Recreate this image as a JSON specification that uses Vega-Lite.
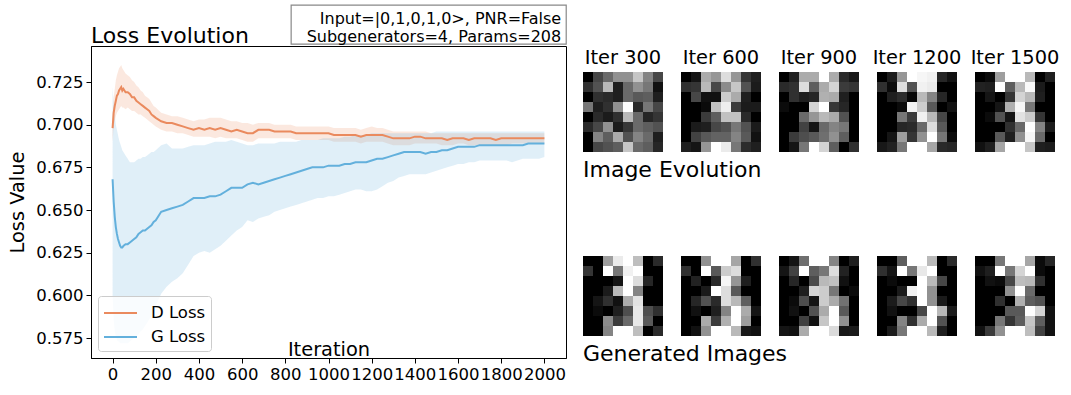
{
"$schema":"https://vega.github.io/schema/vega-lite/v6.json",
"background":"white",
"padding":{"left":7,"right":5,"top":3,"bottom":5},
"config":{
 "font":"DejaVu Sans",
 "view":{"stroke":null},
 "axis":{"grid":false,"domainColor":"black","tickColor":"black","labelColor":"black","titleColor":"black","labelFont":"DejaVu Sans","titleFont":"DejaVu Sans","labelFontSize":16.5,"titleFontSize":19.4,"titleFontWeight":"normal","tickSize":5,"labelPadding":3,"domainWidth":1,"tickWidth":1},
 "title":{"font":"DejaVu Sans","fontWeight":"normal","color":"black"},
 "header":{"labelFont":"DejaVu Sans","labelColor":"black"},
 "legend":{"labelFont":"DejaVu Sans"},
 "scale":{"bandPaddingInner":0,"bandPaddingOuter":0}
},
"datasets":{
 "loss":[
{"it":0,"s":"D Loss","m":0.698,"lo":0.690,"hi":0.705},
{"it":5,"s":"D Loss","m":0.707,"lo":0.699,"hi":0.716},
{"it":10,"s":"D Loss","m":0.711,"lo":0.702,"hi":0.721},
{"it":15,"s":"D Loss","m":0.714,"lo":0.705,"hi":0.726},
{"it":20,"s":"D Loss","m":0.717,"lo":0.707,"hi":0.729},
{"it":25,"s":"D Loss","m":0.718,"lo":0.708,"hi":0.731},
{"it":30,"s":"D Loss","m":0.720,"lo":0.709,"hi":0.733},
{"it":35,"s":"D Loss","m":0.721,"lo":0.710,"hi":0.734},
{"it":40,"s":"D Loss","m":0.722,"lo":0.711,"hi":0.735},
{"it":45,"s":"D Loss","m":0.720,"lo":0.710,"hi":0.733},
{"it":50,"s":"D Loss","m":0.721,"lo":0.710,"hi":0.732},
{"it":60,"s":"D Loss","m":0.719,"lo":0.709,"hi":0.730},
{"it":70,"s":"D Loss","m":0.719,"lo":0.710,"hi":0.729},
{"it":80,"s":"D Loss","m":0.718,"lo":0.709,"hi":0.728},
{"it":90,"s":"D Loss","m":0.716,"lo":0.708,"hi":0.726},
{"it":100,"s":"D Loss","m":0.716,"lo":0.708,"hi":0.725},
{"it":110,"s":"D Loss","m":0.714,"lo":0.707,"hi":0.723},
{"it":120,"s":"D Loss","m":0.713,"lo":0.706,"hi":0.722},
{"it":130,"s":"D Loss","m":0.712,"lo":0.706,"hi":0.720},
{"it":140,"s":"D Loss","m":0.711,"lo":0.705,"hi":0.719},
{"it":150,"s":"D Loss","m":0.710,"lo":0.704,"hi":0.717},
{"it":160,"s":"D Loss","m":0.709,"lo":0.703,"hi":0.716},
{"it":170,"s":"D Loss","m":0.708,"lo":0.702,"hi":0.715},
{"it":180,"s":"D Loss","m":0.706,"lo":0.701,"hi":0.713},
{"it":190,"s":"D Loss","m":0.705,"lo":0.700,"hi":0.711},
{"it":200,"s":"D Loss","m":0.704,"lo":0.699,"hi":0.710},
{"it":225,"s":"D Loss","m":0.702,"lo":0.697,"hi":0.707},
{"it":250,"s":"D Loss","m":0.701,"lo":0.696,"hi":0.706},
{"it":275,"s":"D Loss","m":0.701,"lo":0.696,"hi":0.705},
{"it":300,"s":"D Loss","m":0.700,"lo":0.695,"hi":0.705},
{"it":325,"s":"D Loss","m":0.699,"lo":0.695,"hi":0.704},
{"it":350,"s":"D Loss","m":0.698,"lo":0.694,"hi":0.703},
{"it":375,"s":"D Loss","m":0.697,"lo":0.693,"hi":0.702},
{"it":400,"s":"D Loss","m":0.698,"lo":0.693,"hi":0.703},
{"it":425,"s":"D Loss","m":0.697,"lo":0.693,"hi":0.703},
{"it":450,"s":"D Loss","m":0.698,"lo":0.693,"hi":0.704},
{"it":475,"s":"D Loss","m":0.697,"lo":0.692,"hi":0.704},
{"it":500,"s":"D Loss","m":0.698,"lo":0.693,"hi":0.704},
{"it":525,"s":"D Loss","m":0.697,"lo":0.692,"hi":0.703},
{"it":550,"s":"D Loss","m":0.696,"lo":0.692,"hi":0.702},
{"it":575,"s":"D Loss","m":0.697,"lo":0.692,"hi":0.702},
{"it":600,"s":"D Loss","m":0.696,"lo":0.691,"hi":0.701},
{"it":625,"s":"D Loss","m":0.695,"lo":0.690,"hi":0.701},
{"it":650,"s":"D Loss","m":0.695,"lo":0.690,"hi":0.700},
{"it":675,"s":"D Loss","m":0.697,"lo":0.692,"hi":0.701},
{"it":700,"s":"D Loss","m":0.697,"lo":0.692,"hi":0.701},
{"it":725,"s":"D Loss","m":0.697,"lo":0.692,"hi":0.701},
{"it":750,"s":"D Loss","m":0.696,"lo":0.692,"hi":0.700},
{"it":775,"s":"D Loss","m":0.696,"lo":0.692,"hi":0.700},
{"it":800,"s":"D Loss","m":0.696,"lo":0.692,"hi":0.700},
{"it":825,"s":"D Loss","m":0.696,"lo":0.692,"hi":0.700},
{"it":850,"s":"D Loss","m":0.695,"lo":0.691,"hi":0.699},
{"it":875,"s":"D Loss","m":0.695,"lo":0.691,"hi":0.699},
{"it":900,"s":"D Loss","m":0.695,"lo":0.691,"hi":0.699},
{"it":925,"s":"D Loss","m":0.695,"lo":0.691,"hi":0.699},
{"it":950,"s":"D Loss","m":0.695,"lo":0.691,"hi":0.699},
{"it":975,"s":"D Loss","m":0.695,"lo":0.691,"hi":0.699},
{"it":1000,"s":"D Loss","m":0.695,"lo":0.691,"hi":0.699},
{"it":1025,"s":"D Loss","m":0.694,"lo":0.690,"hi":0.698},
{"it":1050,"s":"D Loss","m":0.694,"lo":0.690,"hi":0.698},
{"it":1075,"s":"D Loss","m":0.694,"lo":0.690,"hi":0.698},
{"it":1100,"s":"D Loss","m":0.694,"lo":0.690,"hi":0.698},
{"it":1125,"s":"D Loss","m":0.694,"lo":0.690,"hi":0.698},
{"it":1150,"s":"D Loss","m":0.693,"lo":0.689,"hi":0.697},
{"it":1175,"s":"D Loss","m":0.694,"lo":0.690,"hi":0.698},
{"it":1200,"s":"D Loss","m":0.694,"lo":0.690,"hi":0.699},
{"it":1225,"s":"D Loss","m":0.694,"lo":0.690,"hi":0.698},
{"it":1250,"s":"D Loss","m":0.694,"lo":0.690,"hi":0.698},
{"it":1275,"s":"D Loss","m":0.693,"lo":0.689,"hi":0.697},
{"it":1300,"s":"D Loss","m":0.692,"lo":0.688,"hi":0.696},
{"it":1325,"s":"D Loss","m":0.692,"lo":0.688,"hi":0.696},
{"it":1350,"s":"D Loss","m":0.692,"lo":0.688,"hi":0.696},
{"it":1375,"s":"D Loss","m":0.692,"lo":0.688,"hi":0.696},
{"it":1400,"s":"D Loss","m":0.693,"lo":0.689,"hi":0.696},
{"it":1425,"s":"D Loss","m":0.693,"lo":0.689,"hi":0.696},
{"it":1450,"s":"D Loss","m":0.692,"lo":0.689,"hi":0.696},
{"it":1475,"s":"D Loss","m":0.692,"lo":0.689,"hi":0.695},
{"it":1500,"s":"D Loss","m":0.692,"lo":0.689,"hi":0.695},
{"it":1525,"s":"D Loss","m":0.692,"lo":0.688,"hi":0.695},
{"it":1550,"s":"D Loss","m":0.691,"lo":0.688,"hi":0.695},
{"it":1575,"s":"D Loss","m":0.692,"lo":0.688,"hi":0.695},
{"it":1600,"s":"D Loss","m":0.692,"lo":0.689,"hi":0.695},
{"it":1625,"s":"D Loss","m":0.692,"lo":0.689,"hi":0.695},
{"it":1650,"s":"D Loss","m":0.691,"lo":0.688,"hi":0.695},
{"it":1675,"s":"D Loss","m":0.692,"lo":0.688,"hi":0.695},
{"it":1700,"s":"D Loss","m":0.692,"lo":0.688,"hi":0.695},
{"it":1725,"s":"D Loss","m":0.692,"lo":0.688,"hi":0.695},
{"it":1750,"s":"D Loss","m":0.692,"lo":0.688,"hi":0.695},
{"it":1775,"s":"D Loss","m":0.691,"lo":0.688,"hi":0.695},
{"it":1800,"s":"D Loss","m":0.692,"lo":0.688,"hi":0.695},
{"it":1825,"s":"D Loss","m":0.692,"lo":0.688,"hi":0.695},
{"it":1850,"s":"D Loss","m":0.692,"lo":0.689,"hi":0.695},
{"it":1875,"s":"D Loss","m":0.692,"lo":0.689,"hi":0.695},
{"it":1900,"s":"D Loss","m":0.692,"lo":0.689,"hi":0.695},
{"it":1925,"s":"D Loss","m":0.692,"lo":0.689,"hi":0.695},
{"it":1950,"s":"D Loss","m":0.692,"lo":0.689,"hi":0.695},
{"it":1975,"s":"D Loss","m":0.692,"lo":0.689,"hi":0.695},
{"it":2000,"s":"D Loss","m":0.692,"lo":0.689,"hi":0.695},
{"it":0,"s":"G Loss","m":0.668,"lo":0.600,"hi":0.722},
{"it":5,"s":"G Loss","m":0.655,"lo":0.586,"hi":0.712},
{"it":10,"s":"G Loss","m":0.646,"lo":0.579,"hi":0.705},
{"it":15,"s":"G Loss","m":0.640,"lo":0.576,"hi":0.700},
{"it":20,"s":"G Loss","m":0.636,"lo":0.574,"hi":0.697},
{"it":25,"s":"G Loss","m":0.633,"lo":0.573,"hi":0.694},
{"it":30,"s":"G Loss","m":0.631,"lo":0.573,"hi":0.691},
{"it":35,"s":"G Loss","m":0.629,"lo":0.572,"hi":0.689},
{"it":40,"s":"G Loss","m":0.628,"lo":0.572,"hi":0.687},
{"it":45,"s":"G Loss","m":0.628,"lo":0.572,"hi":0.685},
{"it":50,"s":"G Loss","m":0.629,"lo":0.572,"hi":0.684},
{"it":60,"s":"G Loss","m":0.630,"lo":0.572,"hi":0.682},
{"it":70,"s":"G Loss","m":0.630,"lo":0.572,"hi":0.680},
{"it":80,"s":"G Loss","m":0.631,"lo":0.573,"hi":0.678},
{"it":90,"s":"G Loss","m":0.632,"lo":0.574,"hi":0.678},
{"it":100,"s":"G Loss","m":0.633,"lo":0.575,"hi":0.678},
{"it":110,"s":"G Loss","m":0.634,"lo":0.576,"hi":0.679},
{"it":120,"s":"G Loss","m":0.636,"lo":0.577,"hi":0.680},
{"it":130,"s":"G Loss","m":0.637,"lo":0.579,"hi":0.680},
{"it":140,"s":"G Loss","m":0.638,"lo":0.580,"hi":0.681},
{"it":150,"s":"G Loss","m":0.638,"lo":0.582,"hi":0.681},
{"it":160,"s":"G Loss","m":0.639,"lo":0.584,"hi":0.682},
{"it":170,"s":"G Loss","m":0.640,"lo":0.586,"hi":0.683},
{"it":180,"s":"G Loss","m":0.641,"lo":0.588,"hi":0.684},
{"it":190,"s":"G Loss","m":0.643,"lo":0.591,"hi":0.684},
{"it":200,"s":"G Loss","m":0.644,"lo":0.594,"hi":0.685},
{"it":225,"s":"G Loss","m":0.649,"lo":0.601,"hi":0.688},
{"it":250,"s":"G Loss","m":0.650,"lo":0.605,"hi":0.689},
{"it":275,"s":"G Loss","m":0.651,"lo":0.608,"hi":0.686},
{"it":300,"s":"G Loss","m":0.652,"lo":0.610,"hi":0.686},
{"it":325,"s":"G Loss","m":0.653,"lo":0.613,"hi":0.686},
{"it":350,"s":"G Loss","m":0.655,"lo":0.618,"hi":0.687},
{"it":375,"s":"G Loss","m":0.657,"lo":0.623,"hi":0.688},
{"it":400,"s":"G Loss","m":0.657,"lo":0.625,"hi":0.688},
{"it":425,"s":"G Loss","m":0.657,"lo":0.626,"hi":0.688},
{"it":450,"s":"G Loss","m":0.658,"lo":0.625,"hi":0.689},
{"it":475,"s":"G Loss","m":0.658,"lo":0.627,"hi":0.690},
{"it":500,"s":"G Loss","m":0.659,"lo":0.629,"hi":0.690},
{"it":525,"s":"G Loss","m":0.661,"lo":0.632,"hi":0.690},
{"it":550,"s":"G Loss","m":0.663,"lo":0.635,"hi":0.691},
{"it":575,"s":"G Loss","m":0.663,"lo":0.638,"hi":0.690},
{"it":600,"s":"G Loss","m":0.663,"lo":0.640,"hi":0.689},
{"it":625,"s":"G Loss","m":0.665,"lo":0.644,"hi":0.688},
{"it":650,"s":"G Loss","m":0.666,"lo":0.643,"hi":0.688},
{"it":675,"s":"G Loss","m":0.665,"lo":0.645,"hi":0.689},
{"it":700,"s":"G Loss","m":0.666,"lo":0.646,"hi":0.689},
{"it":725,"s":"G Loss","m":0.667,"lo":0.647,"hi":0.689},
{"it":750,"s":"G Loss","m":0.668,"lo":0.649,"hi":0.689},
{"it":775,"s":"G Loss","m":0.669,"lo":0.650,"hi":0.690},
{"it":800,"s":"G Loss","m":0.670,"lo":0.651,"hi":0.690},
{"it":825,"s":"G Loss","m":0.671,"lo":0.652,"hi":0.690},
{"it":850,"s":"G Loss","m":0.672,"lo":0.653,"hi":0.690},
{"it":875,"s":"G Loss","m":0.673,"lo":0.654,"hi":0.691},
{"it":900,"s":"G Loss","m":0.674,"lo":0.655,"hi":0.691},
{"it":925,"s":"G Loss","m":0.675,"lo":0.656,"hi":0.691},
{"it":950,"s":"G Loss","m":0.675,"lo":0.657,"hi":0.691},
{"it":975,"s":"G Loss","m":0.675,"lo":0.657,"hi":0.692},
{"it":1000,"s":"G Loss","m":0.676,"lo":0.658,"hi":0.692},
{"it":1025,"s":"G Loss","m":0.676,"lo":0.658,"hi":0.692},
{"it":1050,"s":"G Loss","m":0.676,"lo":0.659,"hi":0.692},
{"it":1075,"s":"G Loss","m":0.677,"lo":0.660,"hi":0.693},
{"it":1100,"s":"G Loss","m":0.677,"lo":0.661,"hi":0.693},
{"it":1125,"s":"G Loss","m":0.678,"lo":0.662,"hi":0.694},
{"it":1150,"s":"G Loss","m":0.678,"lo":0.662,"hi":0.694},
{"it":1175,"s":"G Loss","m":0.678,"lo":0.661,"hi":0.694},
{"it":1200,"s":"G Loss","m":0.679,"lo":0.661,"hi":0.695},
{"it":1225,"s":"G Loss","m":0.680,"lo":0.662,"hi":0.695},
{"it":1250,"s":"G Loss","m":0.680,"lo":0.664,"hi":0.695},
{"it":1275,"s":"G Loss","m":0.681,"lo":0.666,"hi":0.695},
{"it":1300,"s":"G Loss","m":0.682,"lo":0.667,"hi":0.695},
{"it":1325,"s":"G Loss","m":0.683,"lo":0.669,"hi":0.695},
{"it":1350,"s":"G Loss","m":0.684,"lo":0.670,"hi":0.695},
{"it":1375,"s":"G Loss","m":0.684,"lo":0.671,"hi":0.695},
{"it":1400,"s":"G Loss","m":0.684,"lo":0.671,"hi":0.695},
{"it":1425,"s":"G Loss","m":0.684,"lo":0.671,"hi":0.695},
{"it":1450,"s":"G Loss","m":0.683,"lo":0.671,"hi":0.695},
{"it":1475,"s":"G Loss","m":0.684,"lo":0.672,"hi":0.695},
{"it":1500,"s":"G Loss","m":0.684,"lo":0.673,"hi":0.696},
{"it":1525,"s":"G Loss","m":0.685,"lo":0.674,"hi":0.696},
{"it":1550,"s":"G Loss","m":0.685,"lo":0.675,"hi":0.696},
{"it":1575,"s":"G Loss","m":0.686,"lo":0.676,"hi":0.696},
{"it":1600,"s":"G Loss","m":0.687,"lo":0.677,"hi":0.696},
{"it":1625,"s":"G Loss","m":0.687,"lo":0.677,"hi":0.696},
{"it":1650,"s":"G Loss","m":0.687,"lo":0.678,"hi":0.696},
{"it":1675,"s":"G Loss","m":0.687,"lo":0.678,"hi":0.696},
{"it":1700,"s":"G Loss","m":0.688,"lo":0.679,"hi":0.696},
{"it":1725,"s":"G Loss","m":0.688,"lo":0.679,"hi":0.696},
{"it":1750,"s":"G Loss","m":0.688,"lo":0.679,"hi":0.696},
{"it":1775,"s":"G Loss","m":0.688,"lo":0.679,"hi":0.696},
{"it":1800,"s":"G Loss","m":0.688,"lo":0.679,"hi":0.696},
{"it":1825,"s":"G Loss","m":0.688,"lo":0.679,"hi":0.696},
{"it":1850,"s":"G Loss","m":0.688,"lo":0.678,"hi":0.696},
{"it":1875,"s":"G Loss","m":0.688,"lo":0.679,"hi":0.696},
{"it":1900,"s":"G Loss","m":0.688,"lo":0.680,"hi":0.696},
{"it":1925,"s":"G Loss","m":0.689,"lo":0.680,"hi":0.696},
{"it":1950,"s":"G Loss","m":0.689,"lo":0.680,"hi":0.696},
{"it":1975,"s":"G Loss","m":0.689,"lo":0.680,"hi":0.696},
{"it":2000,"s":"G Loss","m":0.689,"lo":0.681,"hi":0.696}
 ],
 "evo":[
{"g":"Iter 300","r":0,"c":0,"v":0},{"g":"Iter 300","r":0,"c":1,"v":0.3},{"g":"Iter 300","r":0,"c":2,"v":0.45},{"g":"Iter 300","r":0,"c":3,"v":0.6},{"g":"Iter 300","r":0,"c":4,"v":0.6},{"g":"Iter 300","r":0,"c":5,"v":0.8},{"g":"Iter 300","r":0,"c":6,"v":0.55},{"g":"Iter 300","r":0,"c":7,"v":0.3},
{"g":"Iter 300","r":1,"c":0,"v":0.2},{"g":"Iter 300","r":1,"c":1,"v":0.35},{"g":"Iter 300","r":1,"c":2,"v":0.75},{"g":"Iter 300","r":1,"c":3,"v":0.12},{"g":"Iter 300","r":1,"c":4,"v":0.45},{"g":"Iter 300","r":1,"c":5,"v":0.6},{"g":"Iter 300","r":1,"c":6,"v":0.5},{"g":"Iter 300","r":1,"c":7,"v":0.05},
{"g":"Iter 300","r":2,"c":0,"v":0},{"g":"Iter 300","r":2,"c":1,"v":0.2},{"g":"Iter 300","r":2,"c":2,"v":0.17},{"g":"Iter 300","r":2,"c":3,"v":0.12},{"g":"Iter 300","r":2,"c":4,"v":0.45},{"g":"Iter 300","r":2,"c":5,"v":0.38},{"g":"Iter 300","r":2,"c":6,"v":0.4},{"g":"Iter 300","r":2,"c":7,"v":0.12},
{"g":"Iter 300","r":3,"c":0,"v":0.5},{"g":"Iter 300","r":3,"c":1,"v":0.12},{"g":"Iter 300","r":3,"c":2,"v":0.2},{"g":"Iter 300","r":3,"c":3,"v":0.6},{"g":"Iter 300","r":3,"c":4,"v":1},{"g":"Iter 300","r":3,"c":5,"v":0.17},{"g":"Iter 300","r":3,"c":6,"v":0.5},{"g":"Iter 300","r":3,"c":7,"v":0.3},
{"g":"Iter 300","r":4,"c":0,"v":0},{"g":"Iter 300","r":4,"c":1,"v":0.17},{"g":"Iter 300","r":4,"c":2,"v":0.1},{"g":"Iter 300","r":4,"c":3,"v":0.2},{"g":"Iter 300","r":4,"c":4,"v":0.75},{"g":"Iter 300","r":4,"c":5,"v":0.45},{"g":"Iter 300","r":4,"c":6,"v":0.15},{"g":"Iter 300","r":4,"c":7,"v":0.22},
{"g":"Iter 300","r":5,"c":0,"v":0.17},{"g":"Iter 300","r":5,"c":1,"v":0.3},{"g":"Iter 300","r":5,"c":2,"v":0.6},{"g":"Iter 300","r":5,"c":3,"v":0.1},{"g":"Iter 300","r":5,"c":4,"v":0.23},{"g":"Iter 300","r":5,"c":5,"v":0.45},{"g":"Iter 300","r":5,"c":6,"v":0.4},{"g":"Iter 300","r":5,"c":7,"v":0.35},
{"g":"Iter 300","r":6,"c":0,"v":0},{"g":"Iter 300","r":6,"c":1,"v":0.55},{"g":"Iter 300","r":6,"c":2,"v":0.4},{"g":"Iter 300","r":6,"c":3,"v":0.7},{"g":"Iter 300","r":6,"c":4,"v":0.35},{"g":"Iter 300","r":6,"c":5,"v":0.55},{"g":"Iter 300","r":6,"c":6,"v":0.45},{"g":"Iter 300","r":6,"c":7,"v":0.12},
{"g":"Iter 300","r":7,"c":0,"v":0},{"g":"Iter 300","r":7,"c":1,"v":0.3},{"g":"Iter 300","r":7,"c":2,"v":0.35},{"g":"Iter 300","r":7,"c":3,"v":0.4},{"g":"Iter 300","r":7,"c":4,"v":0.8},{"g":"Iter 300","r":7,"c":5,"v":0.45},{"g":"Iter 300","r":7,"c":6,"v":0.4},{"g":"Iter 300","r":7,"c":7,"v":0.15},
{"g":"Iter 600","r":0,"c":0,"v":0},{"g":"Iter 600","r":0,"c":1,"v":0.07},{"g":"Iter 600","r":0,"c":2,"v":0.7},{"g":"Iter 600","r":0,"c":3,"v":0.62},{"g":"Iter 600","r":0,"c":4,"v":0.88},{"g":"Iter 600","r":0,"c":5,"v":0.62},{"g":"Iter 600","r":0,"c":6,"v":0.22},{"g":"Iter 600","r":0,"c":7,"v":0.12},
{"g":"Iter 600","r":1,"c":0,"v":0.2},{"g":"Iter 600","r":1,"c":1,"v":0.22},{"g":"Iter 600","r":1,"c":2,"v":0.75},{"g":"Iter 600","r":1,"c":3,"v":0.3},{"g":"Iter 600","r":1,"c":4,"v":0.58},{"g":"Iter 600","r":1,"c":5,"v":0.8},{"g":"Iter 600","r":1,"c":6,"v":0.35},{"g":"Iter 600","r":1,"c":7,"v":0.1},
{"g":"Iter 600","r":2,"c":0,"v":0},{"g":"Iter 600","r":2,"c":1,"v":0.3},{"g":"Iter 600","r":2,"c":2,"v":0.05},{"g":"Iter 600","r":2,"c":3,"v":0.05},{"g":"Iter 600","r":2,"c":4,"v":0.82},{"g":"Iter 600","r":2,"c":5,"v":0.7},{"g":"Iter 600","r":2,"c":6,"v":0.12},{"g":"Iter 600","r":2,"c":7,"v":0},
{"g":"Iter 600","r":3,"c":0,"v":0},{"g":"Iter 600","r":3,"c":1,"v":0},{"g":"Iter 600","r":3,"c":2,"v":0.03},{"g":"Iter 600","r":3,"c":3,"v":0.78},{"g":"Iter 600","r":3,"c":4,"v":0.94},{"g":"Iter 600","r":3,"c":5,"v":0.25},{"g":"Iter 600","r":3,"c":6,"v":0.1},{"g":"Iter 600","r":3,"c":7,"v":0.1},
{"g":"Iter 600","r":4,"c":0,"v":0},{"g":"Iter 600","r":4,"c":1,"v":0},{"g":"Iter 600","r":4,"c":2,"v":0.25},{"g":"Iter 600","r":4,"c":3,"v":0.4},{"g":"Iter 600","r":4,"c":4,"v":0.78},{"g":"Iter 600","r":4,"c":5,"v":0.78},{"g":"Iter 600","r":4,"c":6,"v":0.17},{"g":"Iter 600","r":4,"c":7,"v":0},
{"g":"Iter 600","r":5,"c":0,"v":0},{"g":"Iter 600","r":5,"c":1,"v":0.1},{"g":"Iter 600","r":5,"c":2,"v":0.12},{"g":"Iter 600","r":5,"c":3,"v":0.3},{"g":"Iter 600","r":5,"c":4,"v":0.35},{"g":"Iter 600","r":5,"c":5,"v":0.5},{"g":"Iter 600","r":5,"c":6,"v":0.35},{"g":"Iter 600","r":5,"c":7,"v":0.1},
{"g":"Iter 600","r":6,"c":0,"v":0},{"g":"Iter 600","r":6,"c":1,"v":0.28},{"g":"Iter 600","r":6,"c":2,"v":0.38},{"g":"Iter 600","r":6,"c":3,"v":0.42},{"g":"Iter 600","r":6,"c":4,"v":0.42},{"g":"Iter 600","r":6,"c":5,"v":0.55},{"g":"Iter 600","r":6,"c":6,"v":0.38},{"g":"Iter 600","r":6,"c":7,"v":0.05},
{"g":"Iter 600","r":7,"c":0,"v":0.12},{"g":"Iter 600","r":7,"c":1,"v":0.07},{"g":"Iter 600","r":7,"c":2,"v":0.62},{"g":"Iter 600","r":7,"c":3,"v":1},{"g":"Iter 600","r":7,"c":4,"v":0.93},{"g":"Iter 600","r":7,"c":5,"v":0.5},{"g":"Iter 600","r":7,"c":6,"v":0.18},{"g":"Iter 600","r":7,"c":7,"v":0.12},
{"g":"Iter 900","r":0,"c":0,"v":0},{"g":"Iter 900","r":0,"c":1,"v":0.12},{"g":"Iter 900","r":0,"c":2,"v":0.7},{"g":"Iter 900","r":0,"c":3,"v":0.7},{"g":"Iter 900","r":0,"c":4,"v":1},{"g":"Iter 900","r":0,"c":5,"v":0.7},{"g":"Iter 900","r":0,"c":6,"v":0.17},{"g":"Iter 900","r":0,"c":7,"v":0.08},
{"g":"Iter 900","r":1,"c":0,"v":0.17},{"g":"Iter 900","r":1,"c":1,"v":0.2},{"g":"Iter 900","r":1,"c":2,"v":0.88},{"g":"Iter 900","r":1,"c":3,"v":0.4},{"g":"Iter 900","r":1,"c":4,"v":0.7},{"g":"Iter 900","r":1,"c":5,"v":0.85},{"g":"Iter 900","r":1,"c":6,"v":0.25},{"g":"Iter 900","r":1,"c":7,"v":0.22},
{"g":"Iter 900","r":2,"c":0,"v":0},{"g":"Iter 900","r":2,"c":1,"v":0.2},{"g":"Iter 900","r":2,"c":2,"v":0.12},{"g":"Iter 900","r":2,"c":3,"v":0.15},{"g":"Iter 900","r":2,"c":4,"v":0.72},{"g":"Iter 900","r":2,"c":5,"v":0.7},{"g":"Iter 900","r":2,"c":6,"v":0.12},{"g":"Iter 900","r":2,"c":7,"v":0},
{"g":"Iter 900","r":3,"c":0,"v":0.03},{"g":"Iter 900","r":3,"c":1,"v":0},{"g":"Iter 900","r":3,"c":2,"v":0},{"g":"Iter 900","r":3,"c":3,"v":0.85},{"g":"Iter 900","r":3,"c":4,"v":1},{"g":"Iter 900","r":3,"c":5,"v":0.23},{"g":"Iter 900","r":3,"c":6,"v":0.15},{"g":"Iter 900","r":3,"c":7,"v":0},
{"g":"Iter 900","r":4,"c":0,"v":0},{"g":"Iter 900","r":4,"c":1,"v":0},{"g":"Iter 900","r":4,"c":2,"v":0.45},{"g":"Iter 900","r":4,"c":3,"v":0.62},{"g":"Iter 900","r":4,"c":4,"v":0.75},{"g":"Iter 900","r":4,"c":5,"v":0.7},{"g":"Iter 900","r":4,"c":6,"v":0.35},{"g":"Iter 900","r":4,"c":7,"v":0},
{"g":"Iter 900","r":5,"c":0,"v":0},{"g":"Iter 900","r":5,"c":1,"v":0},{"g":"Iter 900","r":5,"c":2,"v":0.28},{"g":"Iter 900","r":5,"c":3,"v":0.07},{"g":"Iter 900","r":5,"c":4,"v":0.45},{"g":"Iter 900","r":5,"c":5,"v":0.55},{"g":"Iter 900","r":5,"c":6,"v":0.5},{"g":"Iter 900","r":5,"c":7,"v":0},
{"g":"Iter 900","r":6,"c":0,"v":0},{"g":"Iter 900","r":6,"c":1,"v":0.25},{"g":"Iter 900","r":6,"c":2,"v":0.33},{"g":"Iter 900","r":6,"c":3,"v":0.38},{"g":"Iter 900","r":6,"c":4,"v":0.47},{"g":"Iter 900","r":6,"c":5,"v":0.6},{"g":"Iter 900","r":6,"c":6,"v":0.4},{"g":"Iter 900","r":6,"c":7,"v":0},
{"g":"Iter 900","r":7,"c":0,"v":0},{"g":"Iter 900","r":7,"c":1,"v":0.07},{"g":"Iter 900","r":7,"c":2,"v":0.5},{"g":"Iter 900","r":7,"c":3,"v":1},{"g":"Iter 900","r":7,"c":4,"v":0.85},{"g":"Iter 900","r":7,"c":5,"v":0.4},{"g":"Iter 900","r":7,"c":6,"v":0},{"g":"Iter 900","r":7,"c":7,"v":0.2},
{"g":"Iter 1200","r":0,"c":0,"v":0},{"g":"Iter 1200","r":0,"c":1,"v":0.1},{"g":"Iter 1200","r":0,"c":2,"v":0.62},{"g":"Iter 1200","r":0,"c":3,"v":1},{"g":"Iter 1200","r":0,"c":4,"v":0.97},{"g":"Iter 1200","r":0,"c":5,"v":0.95},{"g":"Iter 1200","r":0,"c":6,"v":0.15},{"g":"Iter 1200","r":0,"c":7,"v":0.05},
{"g":"Iter 1200","r":1,"c":0,"v":0.2},{"g":"Iter 1200","r":1,"c":1,"v":0.03},{"g":"Iter 1200","r":1,"c":2,"v":0.88},{"g":"Iter 1200","r":1,"c":3,"v":0.35},{"g":"Iter 1200","r":1,"c":4,"v":0.95},{"g":"Iter 1200","r":1,"c":5,"v":0.93},{"g":"Iter 1200","r":1,"c":6,"v":0},{"g":"Iter 1200","r":1,"c":7,"v":0},
{"g":"Iter 1200","r":2,"c":0,"v":0},{"g":"Iter 1200","r":2,"c":1,"v":0.12},{"g":"Iter 1200","r":2,"c":2,"v":0.18},{"g":"Iter 1200","r":2,"c":3,"v":0.02},{"g":"Iter 1200","r":2,"c":4,"v":0.75},{"g":"Iter 1200","r":2,"c":5,"v":0.55},{"g":"Iter 1200","r":2,"c":6,"v":0.15},{"g":"Iter 1200","r":2,"c":7,"v":0},
{"g":"Iter 1200","r":3,"c":0,"v":0},{"g":"Iter 1200","r":3,"c":1,"v":0},{"g":"Iter 1200","r":3,"c":2,"v":0.03},{"g":"Iter 1200","r":3,"c":3,"v":0.96},{"g":"Iter 1200","r":3,"c":4,"v":0.82},{"g":"Iter 1200","r":3,"c":5,"v":0.38},{"g":"Iter 1200","r":3,"c":6,"v":0},{"g":"Iter 1200","r":3,"c":7,"v":0.05},
{"g":"Iter 1200","r":4,"c":0,"v":0},{"g":"Iter 1200","r":4,"c":1,"v":0},{"g":"Iter 1200","r":4,"c":2,"v":0.5},{"g":"Iter 1200","r":4,"c":3,"v":0.25},{"g":"Iter 1200","r":4,"c":4,"v":0.95},{"g":"Iter 1200","r":4,"c":5,"v":0.75},{"g":"Iter 1200","r":4,"c":6,"v":0.3},{"g":"Iter 1200","r":4,"c":7,"v":0},
{"g":"Iter 1200","r":5,"c":0,"v":0},{"g":"Iter 1200","r":5,"c":1,"v":0},{"g":"Iter 1200","r":5,"c":2,"v":0.15},{"g":"Iter 1200","r":5,"c":3,"v":0.17},{"g":"Iter 1200","r":5,"c":4,"v":0.45},{"g":"Iter 1200","r":5,"c":5,"v":0.88},{"g":"Iter 1200","r":5,"c":6,"v":0.38},{"g":"Iter 1200","r":5,"c":7,"v":0},
{"g":"Iter 1200","r":6,"c":0,"v":0},{"g":"Iter 1200","r":6,"c":1,"v":0.07},{"g":"Iter 1200","r":6,"c":2,"v":0.65},{"g":"Iter 1200","r":6,"c":3,"v":0.22},{"g":"Iter 1200","r":6,"c":4,"v":0.6},{"g":"Iter 1200","r":6,"c":5,"v":1},{"g":"Iter 1200","r":6,"c":6,"v":0.5},{"g":"Iter 1200","r":6,"c":7,"v":0.03},
{"g":"Iter 1200","r":7,"c":0,"v":0.08},{"g":"Iter 1200","r":7,"c":1,"v":0.13},{"g":"Iter 1200","r":7,"c":2,"v":0.5},{"g":"Iter 1200","r":7,"c":3,"v":1},{"g":"Iter 1200","r":7,"c":4,"v":1},{"g":"Iter 1200","r":7,"c":5,"v":0.68},{"g":"Iter 1200","r":7,"c":6,"v":0.17},{"g":"Iter 1200","r":7,"c":7,"v":0.15},
{"g":"Iter 1500","r":0,"c":0,"v":0},{"g":"Iter 1500","r":0,"c":1,"v":0.03},{"g":"Iter 1500","r":0,"c":2,"v":0.65},{"g":"Iter 1500","r":0,"c":3,"v":1},{"g":"Iter 1500","r":0,"c":4,"v":1},{"g":"Iter 1500","r":0,"c":5,"v":0.75},{"g":"Iter 1500","r":0,"c":6,"v":0},{"g":"Iter 1500","r":0,"c":7,"v":0.12},
{"g":"Iter 1500","r":1,"c":0,"v":0.13},{"g":"Iter 1500","r":1,"c":1,"v":0.12},{"g":"Iter 1500","r":1,"c":2,"v":1},{"g":"Iter 1500","r":1,"c":3,"v":0.4},{"g":"Iter 1500","r":1,"c":4,"v":0.75},{"g":"Iter 1500","r":1,"c":5,"v":0.98},{"g":"Iter 1500","r":1,"c":6,"v":0.1},{"g":"Iter 1500","r":1,"c":7,"v":0},
{"g":"Iter 1500","r":2,"c":0,"v":0},{"g":"Iter 1500","r":2,"c":1,"v":0.07},{"g":"Iter 1500","r":2,"c":2,"v":0},{"g":"Iter 1500","r":2,"c":3,"v":0.22},{"g":"Iter 1500","r":2,"c":4,"v":0.85},{"g":"Iter 1500","r":2,"c":5,"v":0.75},{"g":"Iter 1500","r":2,"c":6,"v":0.12},{"g":"Iter 1500","r":2,"c":7,"v":0},
{"g":"Iter 1500","r":3,"c":0,"v":0},{"g":"Iter 1500","r":3,"c":1,"v":0},{"g":"Iter 1500","r":3,"c":2,"v":0.07},{"g":"Iter 1500","r":3,"c":3,"v":0.72},{"g":"Iter 1500","r":3,"c":4,"v":0.97},{"g":"Iter 1500","r":3,"c":5,"v":0.5},{"g":"Iter 1500","r":3,"c":6,"v":0},{"g":"Iter 1500","r":3,"c":7,"v":0},
{"g":"Iter 1500","r":4,"c":0,"v":0},{"g":"Iter 1500","r":4,"c":1,"v":0.03},{"g":"Iter 1500","r":4,"c":2,"v":0.35},{"g":"Iter 1500","r":4,"c":3,"v":0.07},{"g":"Iter 1500","r":4,"c":4,"v":0.9},{"g":"Iter 1500","r":4,"c":5,"v":0.82},{"g":"Iter 1500","r":4,"c":6,"v":0.22},{"g":"Iter 1500","r":4,"c":7,"v":0},
{"g":"Iter 1500","r":5,"c":0,"v":0},{"g":"Iter 1500","r":5,"c":1,"v":0},{"g":"Iter 1500","r":5,"c":2,"v":0},{"g":"Iter 1500","r":5,"c":3,"v":0.2},{"g":"Iter 1500","r":5,"c":4,"v":0.45},{"g":"Iter 1500","r":5,"c":5,"v":1},{"g":"Iter 1500","r":5,"c":6,"v":0.55},{"g":"Iter 1500","r":5,"c":7,"v":0.1},
{"g":"Iter 1500","r":6,"c":0,"v":0},{"g":"Iter 1500","r":6,"c":1,"v":0},{"g":"Iter 1500","r":6,"c":2,"v":0.38},{"g":"Iter 1500","r":6,"c":3,"v":0.12},{"g":"Iter 1500","r":6,"c":4,"v":0.6},{"g":"Iter 1500","r":6,"c":5,"v":0.97},{"g":"Iter 1500","r":6,"c":6,"v":0.45},{"g":"Iter 1500","r":6,"c":7,"v":0},
{"g":"Iter 1500","r":7,"c":0,"v":0.05},{"g":"Iter 1500","r":7,"c":1,"v":0.12},{"g":"Iter 1500","r":7,"c":2,"v":0.68},{"g":"Iter 1500","r":7,"c":3,"v":1},{"g":"Iter 1500","r":7,"c":4,"v":1},{"g":"Iter 1500","r":7,"c":5,"v":0.8},{"g":"Iter 1500","r":7,"c":6,"v":0.12},{"g":"Iter 1500","r":7,"c":7,"v":0.1}
 ],
 "gen":[
{"g":"S1","r":0,"c":0,"v":0},{"g":"S1","r":0,"c":1,"v":0},{"g":"S1","r":0,"c":2,"v":0.65},{"g":"S1","r":0,"c":3,"v":0.93},{"g":"S1","r":0,"c":4,"v":1},{"g":"S1","r":0,"c":5,"v":0.77},{"g":"S1","r":0,"c":6,"v":0},{"g":"S1","r":0,"c":7,"v":0.17},
{"g":"S1","r":1,"c":0,"v":0.22},{"g":"S1","r":1,"c":1,"v":0},{"g":"S1","r":1,"c":2,"v":1},{"g":"S1","r":1,"c":3,"v":0.5},{"g":"S1","r":1,"c":4,"v":0.95},{"g":"S1","r":1,"c":5,"v":1},{"g":"S1","r":1,"c":6,"v":0},{"g":"S1","r":1,"c":7,"v":0},
{"g":"S1","r":2,"c":0,"v":0},{"g":"S1","r":2,"c":1,"v":0},{"g":"S1","r":2,"c":2,"v":0},{"g":"S1","r":2,"c":3,"v":0.07},{"g":"S1","r":2,"c":4,"v":1},{"g":"S1","r":2,"c":5,"v":0.88},{"g":"S1","r":2,"c":6,"v":0.15},{"g":"S1","r":2,"c":7,"v":0},
{"g":"S1","r":3,"c":0,"v":0},{"g":"S1","r":3,"c":1,"v":0},{"g":"S1","r":3,"c":2,"v":0.1},{"g":"S1","r":3,"c":3,"v":0.75},{"g":"S1","r":3,"c":4,"v":1},{"g":"S1","r":3,"c":5,"v":0.55},{"g":"S1","r":3,"c":6,"v":0},{"g":"S1","r":3,"c":7,"v":0},
{"g":"S1","r":4,"c":0,"v":0},{"g":"S1","r":4,"c":1,"v":0.07},{"g":"S1","r":4,"c":2,"v":0.2},{"g":"S1","r":4,"c":3,"v":0.05},{"g":"S1","r":4,"c":4,"v":0.7},{"g":"S1","r":4,"c":5,"v":0.9},{"g":"S1","r":4,"c":6,"v":0},{"g":"S1","r":4,"c":7,"v":0},
{"g":"S1","r":5,"c":0,"v":0},{"g":"S1","r":5,"c":1,"v":0.03},{"g":"S1","r":5,"c":2,"v":0},{"g":"S1","r":5,"c":3,"v":0.12},{"g":"S1","r":5,"c":4,"v":0.33},{"g":"S1","r":5,"c":5,"v":0.92},{"g":"S1","r":5,"c":6,"v":0.33},{"g":"S1","r":5,"c":7,"v":0.2},
{"g":"S1","r":6,"c":0,"v":0},{"g":"S1","r":6,"c":1,"v":0},{"g":"S1","r":6,"c":2,"v":0.58},{"g":"S1","r":6,"c":3,"v":0.25},{"g":"S1","r":6,"c":4,"v":0.45},{"g":"S1","r":6,"c":5,"v":0.92},{"g":"S1","r":6,"c":6,"v":0.38},{"g":"S1","r":6,"c":7,"v":0},
{"g":"S1","r":7,"c":0,"v":0},{"g":"S1","r":7,"c":1,"v":0},{"g":"S1","r":7,"c":2,"v":0.55},{"g":"S1","r":7,"c":3,"v":1},{"g":"S1","r":7,"c":4,"v":1},{"g":"S1","r":7,"c":5,"v":0.77},{"g":"S1","r":7,"c":6,"v":0},{"g":"S1","r":7,"c":7,"v":0.17},
{"g":"S2","r":0,"c":0,"v":0},{"g":"S2","r":0,"c":1,"v":0},{"g":"S2","r":0,"c":2,"v":0.6},{"g":"S2","r":0,"c":3,"v":1},{"g":"S2","r":0,"c":4,"v":1},{"g":"S2","r":0,"c":5,"v":0.68},{"g":"S2","r":0,"c":6,"v":0},{"g":"S2","r":0,"c":7,"v":0.2},
{"g":"S2","r":1,"c":0,"v":0.2},{"g":"S2","r":1,"c":1,"v":0},{"g":"S2","r":1,"c":2,"v":1},{"g":"S2","r":1,"c":3,"v":0.38},{"g":"S2","r":1,"c":4,"v":0.82},{"g":"S2","r":1,"c":5,"v":0.88},{"g":"S2","r":1,"c":6,"v":0},{"g":"S2","r":1,"c":7,"v":0},
{"g":"S2","r":2,"c":0,"v":0},{"g":"S2","r":2,"c":1,"v":0.13},{"g":"S2","r":2,"c":2,"v":0},{"g":"S2","r":2,"c":3,"v":0.17},{"g":"S2","r":2,"c":4,"v":0.97},{"g":"S2","r":2,"c":5,"v":0.62},{"g":"S2","r":2,"c":6,"v":0.12},{"g":"S2","r":2,"c":7,"v":0},
{"g":"S2","r":3,"c":0,"v":0},{"g":"S2","r":3,"c":1,"v":0},{"g":"S2","r":3,"c":2,"v":0.1},{"g":"S2","r":3,"c":3,"v":1},{"g":"S2","r":3,"c":4,"v":0.88},{"g":"S2","r":3,"c":5,"v":0.38},{"g":"S2","r":3,"c":6,"v":0},{"g":"S2","r":3,"c":7,"v":0},
{"g":"S2","r":4,"c":0,"v":0},{"g":"S2","r":4,"c":1,"v":0.15},{"g":"S2","r":4,"c":2,"v":0.35},{"g":"S2","r":4,"c":3,"v":0.17},{"g":"S2","r":4,"c":4,"v":0.88},{"g":"S2","r":4,"c":5,"v":0.75},{"g":"S2","r":4,"c":6,"v":0.4},{"g":"S2","r":4,"c":7,"v":0},
{"g":"S2","r":5,"c":0,"v":0},{"g":"S2","r":5,"c":1,"v":0.05},{"g":"S2","r":5,"c":2,"v":0},{"g":"S2","r":5,"c":3,"v":0.12},{"g":"S2","r":5,"c":4,"v":0.55},{"g":"S2","r":5,"c":5,"v":1},{"g":"S2","r":5,"c":6,"v":0.7},{"g":"S2","r":5,"c":7,"v":0.07},
{"g":"S2","r":6,"c":0,"v":0},{"g":"S2","r":6,"c":1,"v":0},{"g":"S2","r":6,"c":2,"v":0.7},{"g":"S2","r":6,"c":3,"v":0.25},{"g":"S2","r":6,"c":4,"v":0.72},{"g":"S2","r":6,"c":5,"v":1},{"g":"S2","r":6,"c":6,"v":0.65},{"g":"S2","r":6,"c":7,"v":0},
{"g":"S2","r":7,"c":0,"v":0},{"g":"S2","r":7,"c":1,"v":0.05},{"g":"S2","r":7,"c":2,"v":0.6},{"g":"S2","r":7,"c":3,"v":1},{"g":"S2","r":7,"c":4,"v":1},{"g":"S2","r":7,"c":5,"v":0.75},{"g":"S2","r":7,"c":6,"v":0.08},{"g":"S2","r":7,"c":7,"v":0.05},
{"g":"S3","r":0,"c":0,"v":0},{"g":"S3","r":0,"c":1,"v":0.07},{"g":"S3","r":0,"c":2,"v":0.47},{"g":"S3","r":0,"c":3,"v":1},{"g":"S3","r":0,"c":4,"v":1},{"g":"S3","r":0,"c":5,"v":0.55},{"g":"S3","r":0,"c":6,"v":0},{"g":"S3","r":0,"c":7,"v":0.12},
{"g":"S3","r":1,"c":0,"v":0.07},{"g":"S3","r":1,"c":1,"v":0.28},{"g":"S3","r":1,"c":2,"v":1},{"g":"S3","r":1,"c":3,"v":0.4},{"g":"S3","r":1,"c":4,"v":0.5},{"g":"S3","r":1,"c":5,"v":0.88},{"g":"S3","r":1,"c":6,"v":0.13},{"g":"S3","r":1,"c":7,"v":0},
{"g":"S3","r":2,"c":0,"v":0},{"g":"S3","r":2,"c":1,"v":0.15},{"g":"S3","r":2,"c":2,"v":0},{"g":"S3","r":2,"c":3,"v":0.32},{"g":"S3","r":2,"c":4,"v":0.75},{"g":"S3","r":2,"c":5,"v":0.78},{"g":"S3","r":2,"c":6,"v":0.05},{"g":"S3","r":2,"c":7,"v":0},
{"g":"S3","r":3,"c":0,"v":0},{"g":"S3","r":3,"c":1,"v":0},{"g":"S3","r":3,"c":2,"v":0.12},{"g":"S3","r":3,"c":3,"v":0.85},{"g":"S3","r":3,"c":4,"v":0.82},{"g":"S3","r":3,"c":5,"v":0.5},{"g":"S3","r":3,"c":6,"v":0},{"g":"S3","r":3,"c":7,"v":0.03},
{"g":"S3","r":4,"c":0,"v":0},{"g":"S3","r":4,"c":1,"v":0.03},{"g":"S3","r":4,"c":2,"v":0.33},{"g":"S3","r":4,"c":3,"v":0.07},{"g":"S3","r":4,"c":4,"v":0.82},{"g":"S3","r":4,"c":5,"v":0.7},{"g":"S3","r":4,"c":6,"v":0.48},{"g":"S3","r":4,"c":7,"v":0},
{"g":"S3","r":5,"c":0,"v":0},{"g":"S3","r":5,"c":1,"v":0.05},{"g":"S3","r":5,"c":2,"v":0},{"g":"S3","r":5,"c":3,"v":0.35},{"g":"S3","r":5,"c":4,"v":0.7},{"g":"S3","r":5,"c":5,"v":1},{"g":"S3","r":5,"c":6,"v":0.38},{"g":"S3","r":5,"c":7,"v":0},
{"g":"S3","r":6,"c":0,"v":0},{"g":"S3","r":6,"c":1,"v":0},{"g":"S3","r":6,"c":2,"v":0.27},{"g":"S3","r":6,"c":3,"v":0.05},{"g":"S3","r":6,"c":4,"v":0.8},{"g":"S3","r":6,"c":5,"v":1},{"g":"S3","r":6,"c":6,"v":0.6},{"g":"S3","r":6,"c":7,"v":0},
{"g":"S3","r":7,"c":0,"v":0.07},{"g":"S3","r":7,"c":1,"v":0.05},{"g":"S3","r":7,"c":2,"v":0.7},{"g":"S3","r":7,"c":3,"v":1},{"g":"S3","r":7,"c":4,"v":1},{"g":"S3","r":7,"c":5,"v":0.87},{"g":"S3","r":7,"c":6,"v":0.08},{"g":"S3","r":7,"c":7,"v":0.1},
{"g":"S4","r":0,"c":0,"v":0},{"g":"S4","r":0,"c":1,"v":0},{"g":"S4","r":0,"c":2,"v":0.4},{"g":"S4","r":0,"c":3,"v":1},{"g":"S4","r":0,"c":4,"v":1},{"g":"S4","r":0,"c":5,"v":0.75},{"g":"S4","r":0,"c":6,"v":0},{"g":"S4","r":0,"c":7,"v":0.17},
{"g":"S4","r":1,"c":0,"v":0.2},{"g":"S4","r":1,"c":1,"v":0.07},{"g":"S4","r":1,"c":2,"v":1},{"g":"S4","r":1,"c":3,"v":0.5},{"g":"S4","r":1,"c":4,"v":0.92},{"g":"S4","r":1,"c":5,"v":1},{"g":"S4","r":1,"c":6,"v":0},{"g":"S4","r":1,"c":7,"v":0},
{"g":"S4","r":2,"c":0,"v":0},{"g":"S4","r":2,"c":1,"v":0.03},{"g":"S4","r":2,"c":2,"v":0},{"g":"S4","r":2,"c":3,"v":0},{"g":"S4","r":2,"c":4,"v":1},{"g":"S4","r":2,"c":5,"v":0.75},{"g":"S4","r":2,"c":6,"v":0.3},{"g":"S4","r":2,"c":7,"v":0},
{"g":"S4","r":3,"c":0,"v":0},{"g":"S4","r":3,"c":1,"v":0},{"g":"S4","r":3,"c":2,"v":0.1},{"g":"S4","r":3,"c":3,"v":0.95},{"g":"S4","r":3,"c":4,"v":1},{"g":"S4","r":3,"c":5,"v":0.6},{"g":"S4","r":3,"c":6,"v":0},{"g":"S4","r":3,"c":7,"v":0},
{"g":"S4","r":4,"c":0,"v":0},{"g":"S4","r":4,"c":1,"v":0.1},{"g":"S4","r":4,"c":2,"v":0.3},{"g":"S4","r":4,"c":3,"v":0.2},{"g":"S4","r":4,"c":4,"v":1},{"g":"S4","r":4,"c":5,"v":0.6},{"g":"S4","r":4,"c":6,"v":0.1},{"g":"S4","r":4,"c":7,"v":0},
{"g":"S4","r":5,"c":0,"v":0},{"g":"S4","r":5,"c":1,"v":0.05},{"g":"S4","r":5,"c":2,"v":0},{"g":"S4","r":5,"c":3,"v":0},{"g":"S4","r":5,"c":4,"v":0.3},{"g":"S4","r":5,"c":5,"v":1},{"g":"S4","r":5,"c":6,"v":0.75},{"g":"S4","r":5,"c":7,"v":0.1},
{"g":"S4","r":6,"c":0,"v":0},{"g":"S4","r":6,"c":1,"v":0},{"g":"S4","r":6,"c":2,"v":0.55},{"g":"S4","r":6,"c":3,"v":0.2},{"g":"S4","r":6,"c":4,"v":0.7},{"g":"S4","r":6,"c":5,"v":1},{"g":"S4","r":6,"c":6,"v":0.35},{"g":"S4","r":6,"c":7,"v":0},
{"g":"S4","r":7,"c":0,"v":0},{"g":"S4","r":7,"c":1,"v":0.1},{"g":"S4","r":7,"c":2,"v":0.5},{"g":"S4","r":7,"c":3,"v":1},{"g":"S4","r":7,"c":4,"v":1},{"g":"S4","r":7,"c":5,"v":0.75},{"g":"S4","r":7,"c":6,"v":0.12},{"g":"S4","r":7,"c":7,"v":0},
{"g":"S5","r":0,"c":0,"v":0},{"g":"S5","r":0,"c":1,"v":0},{"g":"S5","r":0,"c":2,"v":0.5},{"g":"S5","r":0,"c":3,"v":1},{"g":"S5","r":0,"c":4,"v":1},{"g":"S5","r":0,"c":5,"v":0.68},{"g":"S5","r":0,"c":6,"v":0.03},{"g":"S5","r":0,"c":7,"v":0.15},
{"g":"S5","r":1,"c":0,"v":0.05},{"g":"S5","r":1,"c":1,"v":0.12},{"g":"S5","r":1,"c":2,"v":1},{"g":"S5","r":1,"c":3,"v":0.5},{"g":"S5","r":1,"c":4,"v":0.85},{"g":"S5","r":1,"c":5,"v":1},{"g":"S5","r":1,"c":6,"v":0.03},{"g":"S5","r":1,"c":7,"v":0},
{"g":"S5","r":2,"c":0,"v":0},{"g":"S5","r":2,"c":1,"v":0.05},{"g":"S5","r":2,"c":2,"v":0.03},{"g":"S5","r":2,"c":3,"v":0.3},{"g":"S5","r":2,"c":4,"v":0.77},{"g":"S5","r":2,"c":5,"v":0.75},{"g":"S5","r":2,"c":6,"v":0.2},{"g":"S5","r":2,"c":7,"v":0},
{"g":"S5","r":3,"c":0,"v":0},{"g":"S5","r":3,"c":1,"v":0},{"g":"S5","r":3,"c":2,"v":0},{"g":"S5","r":3,"c":3,"v":0.6},{"g":"S5","r":3,"c":4,"v":1},{"g":"S5","r":3,"c":5,"v":0.45},{"g":"S5","r":3,"c":6,"v":0},{"g":"S5","r":3,"c":7,"v":0},
{"g":"S5","r":4,"c":0,"v":0},{"g":"S5","r":4,"c":1,"v":0},{"g":"S5","r":4,"c":2,"v":0.2},{"g":"S5","r":4,"c":3,"v":0},{"g":"S5","r":4,"c":4,"v":0.72},{"g":"S5","r":4,"c":5,"v":0.4},{"g":"S5","r":4,"c":6,"v":0.35},{"g":"S5","r":4,"c":7,"v":0},
{"g":"S5","r":5,"c":0,"v":0},{"g":"S5","r":5,"c":1,"v":0},{"g":"S5","r":5,"c":2,"v":0},{"g":"S5","r":5,"c":3,"v":0.38},{"g":"S5","r":5,"c":4,"v":0.38},{"g":"S5","r":5,"c":5,"v":1},{"g":"S5","r":5,"c":6,"v":0.85},{"g":"S5","r":5,"c":7,"v":0.05},
{"g":"S5","r":6,"c":0,"v":0},{"g":"S5","r":6,"c":1,"v":0},{"g":"S5","r":6,"c":2,"v":0.5},{"g":"S5","r":6,"c":3,"v":0.22},{"g":"S5","r":6,"c":4,"v":0.4},{"g":"S5","r":6,"c":5,"v":0.8},{"g":"S5","r":6,"c":6,"v":0.4},{"g":"S5","r":6,"c":7,"v":0.05},
{"g":"S5","r":7,"c":0,"v":0.05},{"g":"S5","r":7,"c":1,"v":0.25},{"g":"S5","r":7,"c":2,"v":0.6},{"g":"S5","r":7,"c":3,"v":1},{"g":"S5","r":7,"c":4,"v":1},{"g":"S5","r":7,"c":5,"v":0.77},{"g":"S5","r":7,"c":6,"v":0.28},{"g":"S5","r":7,"c":7,"v":0.05}
 ]
},
"resolve":{"scale":{"color":"independent"},"legend":{"color":"independent"}},
"spacing":15,
"hconcat":[
 {
  "width":475,"height":312,
  "view":{"stroke":"black","strokeWidth":1},
  "layer":[
   {"data":{"name":"loss"},
    "transform":[{"filter":"datum.s == 'D Loss'"}],
    "mark":{"type":"area","opacity":0.2,"color":"#ea8a5e"},
    "encoding":{
     "x":{"field":"it","type":"quantitative","scale":{"domain":[-100,2100],"nice":false,"zero":false},
          "axis":{"values":[0,200,400,600,800,1000,1200,1400,1600,1800,2000],"format":"d","labelOverlap":false,"labelFlush":false,"labelAngle":0,"title":"Iteration","titleY":-3,"titleBaseline":"alphabetic"}},
     "y":{"field":"lo","type":"quantitative","scale":{"domain":[0.5633,0.7461],"nice":false,"zero":false},
          "axis":{"values":[0.575,0.6,0.625,0.65,0.675,0.7,0.725],"format":".3f","title":"Loss Value","titlePadding":8}},
     "y2":{"field":"hi"}
    }},
   {"data":{"name":"loss"},
    "transform":[{"filter":"datum.s == 'G Loss'"}],
    "mark":{"type":"area","opacity":0.2,"color":"#63b0dc"},
    "encoding":{
     "x":{"field":"it","type":"quantitative"},
     "y":{"field":"lo","type":"quantitative"},
     "y2":{"field":"hi"}
    }},
   {"data":{"name":"loss"},
    "mark":{"type":"line","strokeWidth":2},
    "encoding":{
     "x":{"field":"it","type":"quantitative"},
     "y":{"field":"m","type":"quantitative"},
     "color":{"field":"s","type":"nominal","scale":{"domain":["D Loss","G Loss"],"range":["#ea8a5e","#63b0dc"]},
       "legend":{"title":null,"orient":"bottom-left","offset":7,"padding":5,"strokeColor":"#cccccc","fillColor":"rgba(255,255,255,0.8)","cornerRadius":3,"symbolType":"M-1,0H2","symbolSize":484,"symbolStrokeWidth":2,"symbolOpacity":1,"labelFontSize":16.5,"labelOffset":24,"rowPadding":3,"labelColor":"black"}}
    }},
   {"data":{"values":[{}]},
    "mark":{"type":"rect","fill":"white","stroke":"#888888","strokeWidth":1.2},
    "encoding":{"x":{"datum":827},"x2":{"datum":2101},"y":{"datum":0.7472},"y2":{"datum":0.7701}}},
   {"data":{"values":[{}]},
    "mark":{"type":"text","align":"right","baseline":"top","fontSize":16,"dx":-5,"dy":6,"lineHeight":18,"color":"black"},
    "encoding":{"x":{"datum":2101},"y":{"datum":0.7701},"text":{"value":["Input=|0,1,0,1,0>, PNR=False","Subgenerators=4, Params=208"]}}},
   {"data":{"values":[{}]},
    "mark":{"type":"text","align":"left","baseline":"alphabetic","fontSize":22,"dy":-3,"color":"black"},
    "encoding":{"x":{"datum":-100},"y":{"datum":0.7461},"text":{"value":"Loss Evolution"}}}
  ]
 },
 {
  "spacing":75,
  "vconcat":[
   {"spacing":0,
    "vconcat":[
     {"width":80,"height":1,"data":{"values":[]},"mark":{"type":"rule","opacity":0},"encoding":{}},
     {"data":{"name":"evo"},
      "title":{"text":"Image Evolution","orient":"bottom","anchor":"start","fontSize":22,"offset":8},
      "spacing":18,
      "facet":{"column":{"field":"g","type":"nominal","sort":["Iter 300","Iter 600","Iter 900","Iter 1200","Iter 1500"],"header":{"title":null,"labelFontSize":19.4,"labelPadding":4}}},
      "spec":{"width":80,"height":80,"view":{"stroke":null},"mark":{"type":"rect"},
        "encoding":{"x":{"field":"c","type":"ordinal","axis":null},"y":{"field":"r","type":"ordinal","axis":null},
          "color":{"field":"v","type":"quantitative","scale":{"domain":[0,1],"range":["black","white"]},"legend":null}}}
     }
    ]
   },
   {"data":{"name":"gen"},
    "title":{"text":"Generated Images","orient":"bottom","anchor":"start","fontSize":22,"offset":8},
    "spacing":18,
    "facet":{"column":{"field":"g","type":"nominal","sort":["S1","S2","S3","S4","S5"],"header":{"title":null,"labels":false}}},
    "spec":{"width":80,"height":80,"view":{"stroke":null},"mark":{"type":"rect"},
      "encoding":{"x":{"field":"c","type":"ordinal","axis":null},"y":{"field":"r","type":"ordinal","axis":null},
        "color":{"field":"v","type":"quantitative","scale":{"domain":[0,1],"range":["black","white"]},"legend":null}}}
   }
  ]
 }
]
}
